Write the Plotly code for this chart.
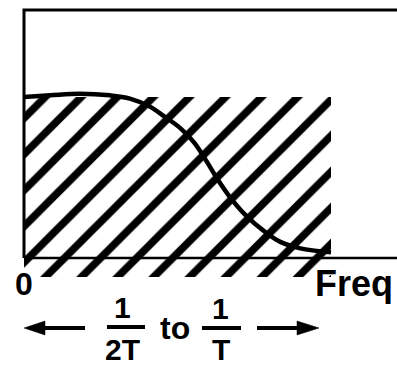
import plotly.graph_objects as go

# Spectrum curve (normalised frequency vs. relative amplitude)
freq = [0.0, 0.085, 0.18, 0.28, 0.345, 0.41, 0.46, 0.51, 0.555, 0.595,
        0.63, 0.67, 0.725, 0.78, 0.835, 0.9, 1.0]
amplitude = [1.0, 1.01, 1.02, 1.01, 0.99, 0.94, 0.875, 0.805, 0.715, 0.6,
             0.49, 0.38, 0.26, 0.17, 0.1, 0.06, 0.035]

# Hatched band: 0 .. 1/T in frequency, extending a little below the axis
band_x = [0.0, 1.0]
band_y = [-0.118, 1.0]

# Text labels
origin_label = "0"
axis_label = "Freq"
frac_lo = ("1", "2T")
frac_hi = ("1", "T")
joiner = "to"

W, H = 397, 367
ML, MR, MT, MB = 24, 0, 10, 87
PW, PH = W - ML - MR, H - MT - MB
Y_RANGE = [-0.1366, 1.540]
X_RANGE = [0.0, 1.215]


def px(x):
    return (x - ML) / PW


def py(y):
    return (H - MB - y) / PH


FAMILY = "Liberation Sans, Arial, sans-serif"


def font(size):
    return dict(family=FAMILY, size=size, color="black", weight="bold")


fig = go.Figure()

fig.add_trace(go.Scatter(
    x=[band_x[0], band_x[1], band_x[1], band_x[0], band_x[0]],
    y=[band_y[0], band_y[0], band_y[1], band_y[1], band_y[0]],
    mode="lines", fill="toself", line=dict(width=0, color="black"),
    fillcolor="white",
    fillpattern=dict(shape="/", size=25.5, solidity=0.3, fgcolor="black",
                     bgcolor="white", fgopacity=1),
    hoverinfo="skip",
))

fig.add_trace(go.Scatter(
    x=freq, y=amplitude, mode="lines",
    line=dict(color="black", width=4.5, shape="spline", smoothing=1.0),
    hoverinfo="skip",
))

shapes = [
    # left + top frame
    dict(type="path", xref="paper", yref="paper",
         path=f"M 0,{py(258)} L 0,1 L 1,1",
         line=dict(color="black", width=3), layer="above"),
    # frequency axis
    dict(type="line", xref="paper", yref="y", x0=0, x1=1, y0=0, y1=0,
         line=dict(color="black", width=2.5), layer="above"),
    # fraction bars
    dict(type="line", xref="paper", yref="paper", x0=px(107), x1=px(145), y0=py(327), y1=py(327),
         line=dict(color="black", width=4)),
    dict(type="line", xref="paper", yref="paper", x0=px(202), x1=px(241), y0=py(328), y1=py(328),
         line=dict(color="black", width=4)),
    # arrows
    dict(type="line", xref="paper", yref="paper", x0=px(42), x1=px(85), y0=py(328), y1=py(328),
         line=dict(color="black", width=4)),
    dict(type="path", xref="paper", yref="paper",
         path=f"M {px(24)},{py(328)} L {px(45)},{py(321)} L {px(45)},{py(335)} Z",
         fillcolor="black", line=dict(color="black", width=0.5)),
    dict(type="line", xref="paper", yref="paper", x0=px(257), x1=px(300), y0=py(328), y1=py(328),
         line=dict(color="black", width=4)),
    dict(type="path", xref="paper", yref="paper",
         path=f"M {px(319)},{py(328)} L {px(297)},{py(321)} L {px(297)},{py(335)} Z",
         fillcolor="black", line=dict(color="black", width=0.5)),
]


def label(text, x, y, size, anchor="center"):
    return dict(text=text, x=px(x), y=py(y), xref="paper", yref="paper",
                xanchor=anchor, yanchor="middle", showarrow=False, font=font(size))


annotations = [
    label(origin_label, 24, 283.5, 32),
    label(axis_label, 313, 283, 36, anchor="left"),
    label(frac_lo[0], 122.5, 307.5, 30),
    label(frac_lo[1], 122, 349.5, 30),
    label(joiner, 174.5, 327.5, 32),
    label(frac_hi[0], 220, 308, 30),
    label(frac_hi[1], 221, 349.5, 30),
]

fig.update_layout(
    width=W, height=H,
    margin=dict(l=ML, r=MR, t=MT, b=MB, pad=0),
    paper_bgcolor="white", plot_bgcolor="white",
    showlegend=False,
    xaxis=dict(range=X_RANGE, visible=False, fixedrange=True),
    yaxis=dict(range=Y_RANGE, visible=False, fixedrange=True),
    shapes=shapes,
    annotations=annotations,
)

fig.write_html("out.html", config=dict(displayModeBar=False))
